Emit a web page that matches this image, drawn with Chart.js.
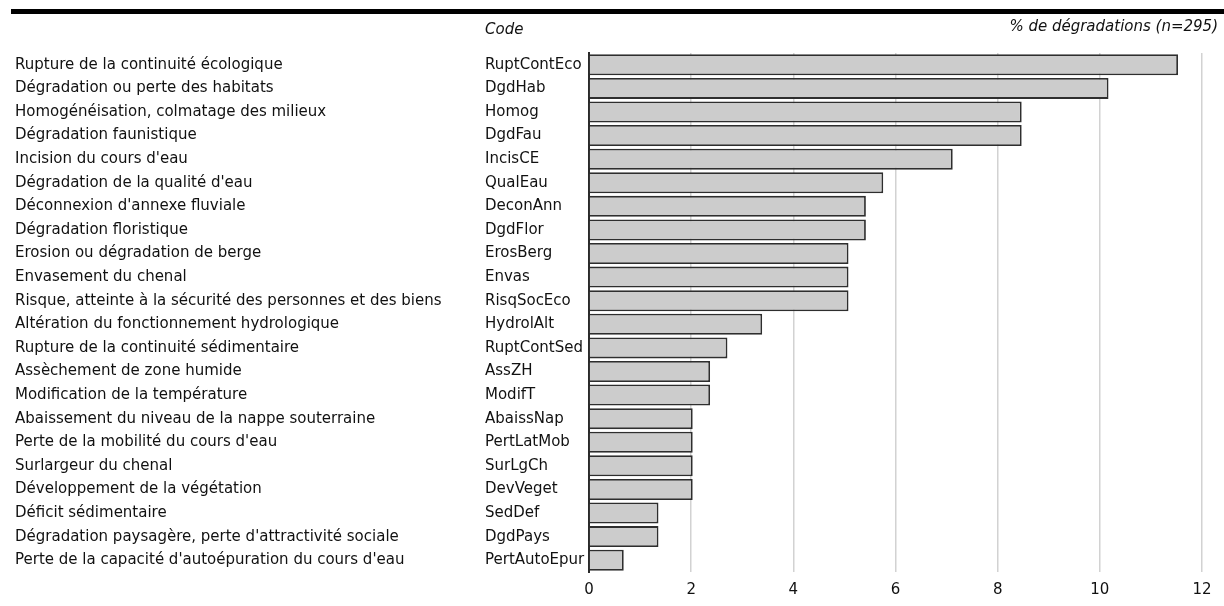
<!DOCTYPE html>
<html>
<head>
<meta charset="utf-8">
<script src="https://cdn.jsdelivr.net/npm/chart.js@4/dist/chart.umd.min.js"></script>
<style>
  html,body{margin:0;padding:0;background:#fff;}
  #wrap{width:1224px;height:606px;position:relative;}
</style>
</head>
<body>
<div id="wrap"><canvas id="degChart"></canvas></div>
<script>
const descriptions = [
  "Rupture de la continuité écologique",
  "Dégradation ou perte des habitats",
  "Homogénéisation, colmatage des milieux",
  "Dégradation faunistique",
  "Incision du cours d'eau",
  "Dégradation de la qualité d'eau",
  "Déconnexion d'annexe fluviale",
  "Dégradation floristique",
  "Erosion ou dégradation de berge",
  "Envasement du chenal",
  "Risque, atteinte à la sécurité des personnes et des biens",
  "Altération du fonctionnement hydrologique",
  "Rupture de la continuité sédimentaire",
  "Assèchement de zone humide",
  "Modification de la température",
  "Abaissement du niveau de la nappe souterraine",
  "Perte de la mobilité du cours d'eau",
  "Surlargeur du chenal",
  "Développement de la végétation",
  "Déficit sédimentaire",
  "Dégradation paysagère, perte d'attractivité sociale",
  "Perte de la capacité d'autoépuration du cours d'eau"
];
const codes = [
  "RuptContEco","DgdHab","Homog","DgdFau","IncisCE","QualEau","DeconAnn","DgdFlor",
  "ErosBerg","Envas","RisqSocEco","HydrolAlt","RuptContSed","AssZH","ModifT",
  "AbaissNap","PertLatMob","SurLgCh","DevVeget","SedDef","DgdPays","PertAutoEpur"
];
const pctDegradations = [
  11.53, 10.17, 8.47, 8.47, 7.12, 5.76, 5.42, 5.42, 5.08, 5.08, 5.08,
  3.39, 2.71, 2.37, 2.37, 2.03, 2.03, 2.03, 2.03, 1.36, 1.36, 0.68
];
const xTicks = [0, 2, 4, 6, 8, 10, 12];
const codeHeader = "Code";
const valueHeader = "% de dégradations (n=295)";

const FONT = "'DejaVu Sans', sans-serif";
const TXT = '#111111';
const FS = 15;

const headerPlugin = {
  id: 'headers',
  afterDraw(chart){
    const c = chart.ctx;
    const codeAxis = chart.scales.y;
    c.save();
    c.fillStyle = '#000';
    c.fillRect(11, 9, 1224 - 11, 5);
    c.font = "italic " + FS + "px " + FONT;
    c.fillStyle = TXT;
    c.textBaseline = 'middle';
    c.textAlign = 'left';
    c.fillText(codeHeader, codeAxis.left, 30);
    c.textAlign = 'right';
    c.fillText(valueHeader, 1218, 27);
    c.restore();
  }
};

const ctx = document.getElementById('degChart').getContext('2d');
new Chart(ctx, {
  type: 'bar',
  data: {
    labels: codes,
    datasets: [{
      label: valueHeader,
      data: pctDegradations,
      backgroundColor: '#cccccc',
      borderColor: '#2e2e2e',
      borderWidth: 1.8,
      borderSkipped: 'start',
      categoryPercentage: 0.89,
      barPercentage: 1
    }]
  },
  options: {
    indexAxis: 'y',
    responsive: true,
    maintainAspectRatio: false,
    animation: false,
    layout: { padding: { top: 53, left: 15, right: 22, bottom: 0 } },
    plugins: { legend: { display: false }, tooltip: { enabled: false } },
    scales: {
      x: {
        type: 'linear', min: 0, max: 12,
        afterBuildTicks: (s) => { s.ticks = xTicks.map(v => ({ value: v })); },
        ticks: { color: TXT, font: { family: FONT, size: FS }, padding: 9 },
        grid: { color: '#d2d2d2', lineWidth: 1.5, drawTicks: false },
        border: { display: false },
        afterFit: (s) => { s.height = 34; }
      },
      y: {
        type: 'category', position: 'left', weight: 0,
        grid: { display: false },
        border: { color: '#2a2a2a', width: 2 },
        ticks: { color: TXT, crossAlign: 'far', font: { family: FONT, size: FS }, padding: 4, autoSkip: false },
        afterFit: (s) => { s.width = 104; }
      },
      yDesc: {
        type: 'category', position: 'left', weight: 10,
        labels: descriptions,
        grid: { display: false },
        border: { display: false },
        ticks: { color: TXT, crossAlign: 'far', font: { family: FONT, size: FS }, autoSkip: false },
        afterFit: (s) => { s.width = 470; }
      }
    }
  },
  plugins: [headerPlugin]
});
</script>
</body>
</html>
